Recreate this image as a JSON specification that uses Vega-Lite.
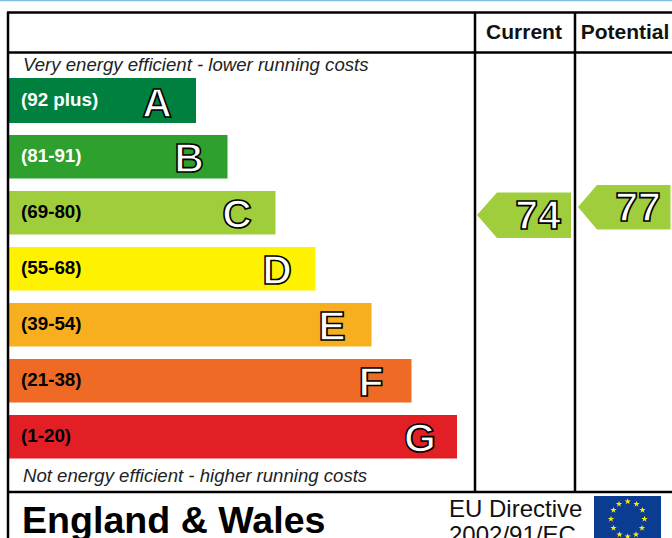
{"$schema":"https://vega.github.io/schema/vega-lite/v6.json","width":672,"height":538,"autosize":"none","padding":0,"background":"white","view":{"stroke":null},
"datasets":{
"bands":[{"b":"A","r":"(92 plus)","x0":9,"x1":196,"y0":78,"y1":123,"c":"#00803f","lc":"#ffffff","lx":157,"lab":100,"base":116.5},{"b":"B","r":"(81-91)","x0":9,"x1":227.5,"y0":135,"y1":178.5,"c":"#2ea02d","lc":"#ffffff","lx":189,"lab":156,"base":172},{"b":"C","r":"(69-80)","x0":9,"x1":275.5,"y0":191,"y1":234.5,"c":"#9fcd3c","lc":"#000000","lx":237,"lab":212,"base":228},{"b":"D","r":"(55-68)","x0":9,"x1":315.5,"y0":247,"y1":290.5,"c":"#fff200","lc":"#000000","lx":277,"lab":268,"base":284},{"b":"E","r":"(39-54)","x0":9,"x1":371.5,"y0":303,"y1":346.5,"c":"#f8af1f","lc":"#000000","lx":332,"lab":324,"base":340},{"b":"F","r":"(21-38)","x0":9,"x1":411.5,"y0":359,"y1":402.5,"c":"#ef6a25","lc":"#000000","lx":371,"lab":380,"base":396},{"b":"G","r":"(1-20)","x0":9,"x1":457,"y0":415,"y1":458.5,"c":"#e31f26","lc":"#000000","lx":420,"lab":436,"base":452}],
"arrows":[{"s":"Current","x":477,"t":215,"b":215},{"s":"Current","x":497,"t":192.5,"b":238},{"s":"Current","x":571,"t":192.5,"b":238},{"s":"Potential","x":578,"t":207,"b":207},{"s":"Potential","x":597,"t":185,"b":229.5},{"s":"Potential","x":670.5,"t":185,"b":229.5}],
"frame":[{"x0":8,"x1":8,"y0":12,"y1":538},{"x0":475,"x1":475,"y0":12,"y1":491},{"x0":575,"x1":575,"y0":12,"y1":491},{"x0":7,"x1":672,"y0":12.5,"y1":12.5},{"x0":7,"x1":672,"y0":52.5,"y1":52.5},{"x0":7,"x1":672,"y0":492,"y1":492}],
"stars":[{"x":627.7,"y":501.5},{"x":636.5,"y":504},{"x":642.5,"y":510},{"x":644.5,"y":519},{"x":642,"y":528},{"x":636,"y":534.5},{"x":627.7,"y":536.5},{"x":619.5,"y":534.5},{"x":613.5,"y":528},{"x":611,"y":519},{"x":613.5,"y":510},{"x":619,"y":504}]},
"layer":[
{"data":{"values":[{"x0":0,"x1":672,"y":0.5}]},"mark":{"type":"rule","color":"#7fbde6","strokeWidth":1.5},"encoding":{"x":{"field":"x0","type":"quantitative","scale":{"domain":[0,672],"nice":false,"zero":false},"axis":null},"x2":{"field":"x1"},"y":{"field":"y","type":"quantitative","scale":{"domain":[538,0],"nice":false,"zero":false},"axis":null}}},
{"data":{"name":"bands"},"mark":{"type":"rect"},"encoding":{"x":{"field":"x0","type":"quantitative","axis":null},"x2":{"field":"x1"},"y":{"field":"y0","type":"quantitative","axis":null},"y2":{"field":"y1"},"color":{"field":"c","type":"nominal","scale":null}}},
{"data":{"name":"frame"},"mark":{"type":"rule","color":"#000000","strokeWidth":2.5},"encoding":{"x":{"field":"x0","type":"quantitative","axis":null},"x2":{"field":"x1"},"y":{"field":"y0","type":"quantitative","axis":null},"y2":{"field":"y1"}}},
{"data":{"name":"arrows"},"transform":[{"filter":"datum.s==='Current'"}],"mark":{"type":"area","color":"#9fcd3c","orient":"vertical"},"encoding":{"x":{"field":"x","type":"quantitative","axis":null},"y":{"field":"t","type":"quantitative","axis":null},"y2":{"field":"b"}}},
{"data":{"name":"arrows"},"transform":[{"filter":"datum.s==='Potential'"}],"mark":{"type":"area","color":"#9fcd3c","orient":"vertical"},"encoding":{"x":{"field":"x","type":"quantitative","axis":null},"y":{"field":"t","type":"quantitative","axis":null},"y2":{"field":"b"}}},
{"data":{"name":"bands"},"mark":{"type":"text","font":"Liberation Sans","fontWeight":"bold","fontSize":18.8,"align":"left","baseline":"middle"},"encoding":{"x":{"datum":21,"type":"quantitative","axis":null},"y":{"field":"lab","type":"quantitative","axis":null},"text":{"field":"r"},"color":{"field":"lc","type":"nominal","scale":null}}},
{"data":{"name":"bands"},"mark":{"type":"text","font":"Liberation Sans","fontWeight":"bold","fontSize":41,"align":"center","baseline":"alphabetic","fill":"#ffffff","stroke":"#000000","strokeWidth":1.6},"encoding":{"x":{"field":"lx","type":"quantitative","axis":null},"y":{"field":"base","type":"quantitative","axis":null},"text":{"field":"b"}}},
{"data":{"values":[{"t":"74","x":538,"y":229},{"t":"77","x":638,"y":221}]},"mark":{"type":"text","font":"Liberation Sans","fontWeight":"bold","fontSize":41,"align":"center","baseline":"alphabetic","fill":"#ffffff","stroke":"#000000","strokeWidth":1.6},"encoding":{"x":{"field":"x","type":"quantitative","axis":null},"y":{"field":"y","type":"quantitative","axis":null},"text":{"field":"t"}}},
{"data":{"values":[{"t":"Current","x":524,"y":39},{"t":"Potential","x":625,"y":39}]},"mark":{"type":"text","font":"Liberation Sans","fontWeight":"bold","fontSize":21,"align":"center","baseline":"alphabetic","color":"#111111"},"encoding":{"x":{"field":"x","type":"quantitative","axis":null},"y":{"field":"y","type":"quantitative","axis":null},"text":{"field":"t"}}},
{"data":{"values":[{"t":"Very energy efficient - lower running costs","x":23,"y":71},{"t":"Not energy efficient - higher running costs","x":23,"y":482}]},"mark":{"type":"text","font":"Liberation Sans","fontStyle":"italic","fontSize":18.6,"align":"left","baseline":"alphabetic","color":"#222222"},"encoding":{"x":{"field":"x","type":"quantitative","axis":null},"y":{"field":"y","type":"quantitative","axis":null},"text":{"field":"t"}}},
{"data":{"values":[{"t":"England & Wales","x":22,"y":533}]},"mark":{"type":"text","font":"Liberation Sans","fontWeight":"bold","fontSize":37.6,"align":"left","baseline":"alphabetic","color":"#000000"},"encoding":{"x":{"field":"x","type":"quantitative","axis":null},"y":{"field":"y","type":"quantitative","axis":null},"text":{"field":"t"}}},
{"data":{"values":[{"t":"EU Directive","x":449,"y":517},{"t":"2002/91/EC","x":449,"y":543}]},"mark":{"type":"text","font":"Liberation Sans","fontSize":24,"align":"left","baseline":"alphabetic","color":"#111111"},"encoding":{"x":{"field":"x","type":"quantitative","axis":null},"y":{"field":"y","type":"quantitative","axis":null},"text":{"field":"t"}}},
{"data":{"values":[{"x0":594,"x1":661,"y0":496,"y1":538}]},"mark":{"type":"rect","color":"#0a3d91"},"encoding":{"x":{"field":"x0","type":"quantitative","axis":null},"x2":{"field":"x1"},"y":{"field":"y0","type":"quantitative","axis":null},"y2":{"field":"y1"}}},
{"data":{"name":"stars"},"mark":{"type":"point","filled":true,"color":"#ffec00","opacity":1,"size":45,"shape":"M0,-1L0.225,-0.309L0.951,-0.309L0.363,0.118L0.588,0.809L0,0.382L-0.588,0.809L-0.363,0.118L-0.951,-0.309L-0.225,-0.309Z"},"encoding":{"x":{"field":"x","type":"quantitative","axis":null},"y":{"field":"y","type":"quantitative","axis":null}}}
]}
